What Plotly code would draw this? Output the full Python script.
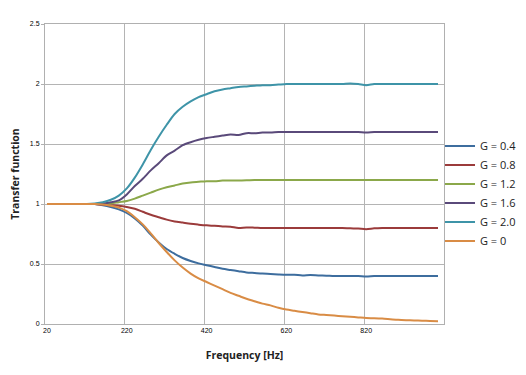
import plotly.graph_objects as go

freq = list(range(20, 1001, 20))

g04 = [1.0, 1.0, 1.0, 1.0, 1.0, 1.0, 1.0, 0.99, 0.975, 0.955,
       0.925, 0.88, 0.82, 0.745, 0.68, 0.625, 0.585, 0.55, 0.525, 0.505,
       0.49, 0.475, 0.46, 0.45, 0.44, 0.43, 0.425, 0.42, 0.417, 0.413,
       0.41, 0.41, 0.405, 0.408, 0.405, 0.403, 0.40, 0.40, 0.40, 0.40,
       0.395, 0.40, 0.40, 0.40, 0.40, 0.40, 0.40, 0.40, 0.40, 0.40]
g08 = [1.0, 1.0, 1.0, 1.0, 1.0, 1.0, 1.0, 0.995, 0.99, 0.985,
       0.975, 0.96, 0.935, 0.91, 0.89, 0.87, 0.855, 0.845, 0.835, 0.828,
       0.822, 0.818, 0.813, 0.81, 0.80, 0.805, 0.803, 0.80, 0.80, 0.80,
       0.80, 0.80, 0.80, 0.80, 0.80, 0.80, 0.80, 0.80, 0.797, 0.795,
       0.79, 0.797, 0.80, 0.80, 0.80, 0.80, 0.80, 0.80, 0.80, 0.80]
g12 = [1.0, 1.0, 1.0, 1.0, 1.0, 1.0, 1.0, 1.0, 1.005, 1.015,
       1.025, 1.045, 1.07, 1.095, 1.12, 1.14, 1.155, 1.17, 1.18, 1.185,
       1.19, 1.19, 1.195, 1.195, 1.195, 1.197, 1.2, 1.2, 1.2, 1.2,
       1.2, 1.2, 1.2, 1.2, 1.2, 1.2, 1.2, 1.2, 1.2, 1.2,
       1.2, 1.2, 1.2, 1.2, 1.2, 1.2, 1.2, 1.2, 1.2, 1.2]
g16 = [1.0, 1.0, 1.0, 1.0, 1.0, 1.0, 1.0, 1.005, 1.015, 1.03,
       1.08, 1.15, 1.21, 1.28, 1.34, 1.405, 1.445, 1.49, 1.515, 1.535,
       1.55, 1.56, 1.57, 1.58, 1.575, 1.59, 1.59, 1.595, 1.595, 1.6,
       1.6, 1.6, 1.6, 1.6, 1.6, 1.6, 1.6, 1.6, 1.6, 1.6,
       1.595, 1.6, 1.6, 1.6, 1.6, 1.6, 1.6, 1.6, 1.6, 1.6]
g20 = [1.0, 1.0, 1.0, 1.0, 1.0, 1.0, 1.005, 1.015, 1.035, 1.07,
       1.13, 1.22, 1.33, 1.45, 1.56, 1.66, 1.75, 1.81, 1.855, 1.89,
       1.915, 1.94, 1.955, 1.965, 1.975, 1.98, 1.985, 1.99, 1.99, 1.995,
       2.0, 2.0, 2.0, 2.0, 2.0, 2.0, 2.0, 2.0, 2.005, 2.0,
       1.99, 2.0, 2.0, 2.0, 2.0, 2.0, 2.0, 2.0, 2.0, 2.0]
g00 = [1.0, 1.0, 1.0, 1.0, 1.0, 1.0, 1.0, 0.995, 0.985, 0.97,
       0.94, 0.89, 0.83, 0.755, 0.675, 0.6, 0.53, 0.47, 0.42, 0.38,
       0.35, 0.32, 0.29, 0.26, 0.235, 0.21, 0.19, 0.17, 0.155, 0.135,
       0.12, 0.11, 0.10, 0.09, 0.08, 0.075, 0.07, 0.065, 0.06, 0.055,
       0.05, 0.048, 0.045, 0.04, 0.035, 0.032, 0.03, 0.028, 0.025, 0.022]

series_names = ["G = 0.4", "G = 0.8", "G = 1.2", "G = 1.6", "G = 2.0", "G = 0"]
series_values = [g04, g08, g12, g16, g20, g00]
series_colors = ["#3D6D9E", "#9B3B3B", "#8BA84A", "#5A4A7A", "#3E94A8", "#D98C45"]

x_tick_labels = ["20", "220", "420", "620", "820"]
x_tick_vals = [20, 220, 420, 620, 820]

fig = go.Figure()
for name, vals, col in zip(series_names, series_values, series_colors):
    fig.add_trace(go.Scatter(x=freq, y=vals, name=name, mode="lines",
                             line=dict(color=col, width=2, shape="spline", smoothing=0.8)))

axis_font = dict(family="Liberation Sans, Arial, sans-serif", size=7, color="#000000")
fig.update_layout(
    width=526, height=375,
    margin=dict(l=37, r=82, t=16, b=59),
    paper_bgcolor="white", plot_bgcolor="white",
    font=dict(family="Open Sans, Liberation Sans, sans-serif", color="#222222"),
    legend=dict(x=0.99, y=0.642, xanchor="left", yanchor="top",
                font=dict(size=11, color="#222222"),
                bgcolor="rgba(0,0,0,0)", tracegroupgap=0),
    xaxis=dict(range=[15, 1015], tickmode="array", tickvals=x_tick_vals,
               ticktext=x_tick_labels, tickfont=axis_font, showgrid=False,
               zeroline=False, showline=True, linecolor="#b0b0b0", mirror=True,
               ticks="", ticklen=0, automargin=False,
               minor=dict(tickmode="linear", tick0=15, dtick=200, showgrid=True,
                          gridcolor="#b4b4b4", gridwidth=1, ticks=""),
               title=dict(text="<b>Frequency [Hz]</b>", font=dict(size=10.5), standoff=18)),
    yaxis=dict(range=[0, 2.5], dtick=0.5, tickfont=axis_font, showgrid=True,
               gridcolor="#b4b4b4", gridwidth=1, zeroline=False, showline=True,
               linecolor="#b0b0b0", mirror=True, ticks="outside", ticklen=3,
               tickcolor="#b0b0b0", automargin=False,
               title=dict(text="<b>Transfer function</b>", font=dict(size=10.5), standoff=12)),
)

fig.write_html("out.html")
